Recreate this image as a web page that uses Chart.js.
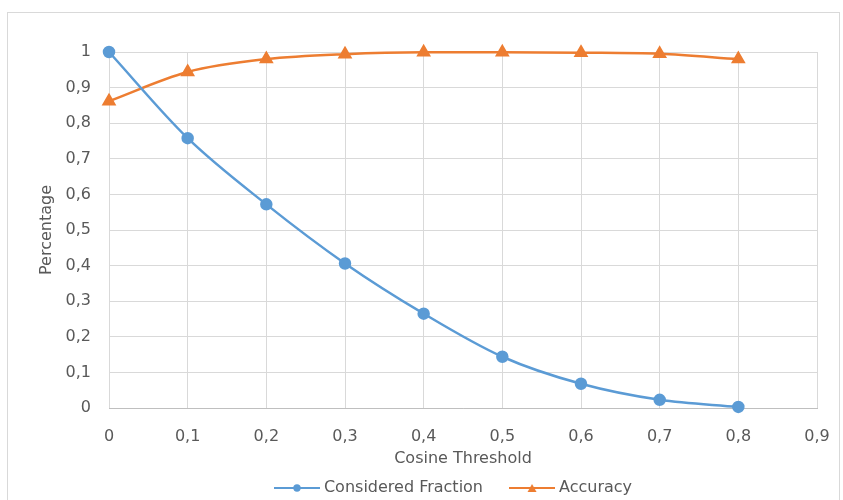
<!DOCTYPE html>
<html lang="en">
<head>
  <meta charset="UTF-8">
  <title>Cosine Threshold</title>
  <script src="https://cdn.jsdelivr.net/npm/chart.js"></script>
  <style>
    body { margin: 0; background: #fff; }
    #frame {
      position: absolute; left: 7px; top: 12px;
      width: 831px; height: 500px;
      border: 1px solid #d9d9d9;
    }
    #wrap { position: absolute; left: 0; top: 0; width: 843px; height: 500px; }
  </style>
</head>
<body>
  <div id="frame"></div>
  <div id="wrap"><canvas id="chart"></canvas></div>
  <script>
    // values
    const thresholds = [0, 0.1, 0.2, 0.3, 0.4, 0.5, 0.6, 0.7, 0.8];
    const consideredFraction = [1, 0.758, 0.572, 0.406, 0.265, 0.144, 0.068, 0.023, 0.003];
    const accuracy = [0.862, 0.944, 0.980, 0.994, 0.999, 0.999, 0.998, 0.995, 0.980];
    const seriesNames = ['Considered Fraction', 'Accuracy'];

    const BLUE = '#5b9bd5';
    const ORANGE = '#ed7d31';
    const TEXT = '#595959';
    const FONT = '"DejaVu Sans", "Open Sans", sans-serif';

    const toPoints = arr => arr.map((v, i) => ({ x: thresholds[i], y: v }));
    const fmt = v => String(Number(v.toFixed(1))).replace('.', ',');

    // legend swatch: line with a small marker in the middle, like Excel
    function swatch(color, shape) {
      const c = document.createElement('canvas');
      c.width = 46; c.height = 10;
      const g = c.getContext('2d');
      g.strokeStyle = color; g.lineWidth = 2;
      g.beginPath(); g.moveTo(0, 5); g.lineTo(46, 5); g.stroke();
      g.fillStyle = color;
      g.beginPath();
      if (shape === 'circle') {
        g.arc(23, 5, 3.7, 0, Math.PI * 2);
      } else {
        g.moveTo(23, 1); g.lineTo(27.5, 9); g.lineTo(18.5, 9); g.closePath();
      }
      g.fill();
      return c;
    }
    const swatches = [swatch(BLUE, 'circle'), swatch(ORANGE, 'triangle')];

    // nudge the legend to where Excel puts it
    const legendShift = {
      id: 'legendShift',
      afterLayout(chart) {
        const l = chart.legend;
        l.left += 30; l.right += 30;
        l.top += 6; l.bottom += 6;
      }
    };

    new Chart(document.getElementById('chart'), {
      type: 'line',
      data: {
        datasets: [
          {
            label: seriesNames[0], data: toPoints(consideredFraction),
            borderColor: BLUE, backgroundColor: BLUE, borderWidth: 2.5,
            pointStyle: 'circle', pointRadius: 5, pointHoverRadius: 5,
            cubicInterpolationMode: 'monotone', clip: false
          },
          {
            label: seriesNames[1], data: toPoints(accuracy),
            borderColor: ORANGE, backgroundColor: ORANGE, borderWidth: 2.5,
            pointStyle: 'triangle', pointRadius: 6, pointHoverRadius: 6,
            cubicInterpolationMode: 'monotone', clip: false
          }
        ]
      },
      plugins: [legendShift],
      options: {
        responsive: true,
        maintainAspectRatio: false,
        animation: false,
        layout: { padding: { left: 33, right: 26, top: 52, bottom: 0 } },
        plugins: {
          tooltip: { enabled: false },
          legend: {
            position: 'bottom',
            labels: {
              usePointStyle: true,
              pointStyleWidth: 38,
              padding: 30,
              color: TEXT,
              font: { family: FONT, size: 16 },
              generateLabels: chart => chart.data.datasets.map((ds, i) => ({
                text: ds.label,
                pointStyle: swatches[i],
                fillStyle: ds.borderColor,
                strokeStyle: ds.borderColor,
                lineWidth: 0,
                fontColor: TEXT,
                datasetIndex: i
              }))
            }
          }
        },
        scales: {
          x: {
            type: 'linear', min: 0, max: 0.9,
            afterFit: s => { s.height = 36; s.paddingLeft = 0; s.paddingRight = 0; },
            ticks: { stepSize: 0.1, color: TEXT, padding: 19, font: { family: FONT, size: 16 }, callback: v => fmt(v) },
            grid: { color: '#d9d9d9', drawTicks: false },
            border: { color: '#bfbfbf' },
            title: { display: true, text: 'Cosine Threshold', color: TEXT, font: { family: FONT, size: 16 }, padding: { top: 0, bottom: -24 } }
          },
          y: {
            min: 0, max: 1,
            afterFit: s => { s.width = 76; },
            ticks: { stepSize: 0.1, color: TEXT, padding: 18, font: { family: FONT, size: 16 }, callback: v => fmt(v) },
            grid: { color: '#d9d9d9', drawTicks: false },
            border: { display: false },
            title: { display: true, text: 'Percentage', color: TEXT, font: { family: FONT, size: 16 } }
          }
        }
      }
    });
  </script>
</body>
</html>
